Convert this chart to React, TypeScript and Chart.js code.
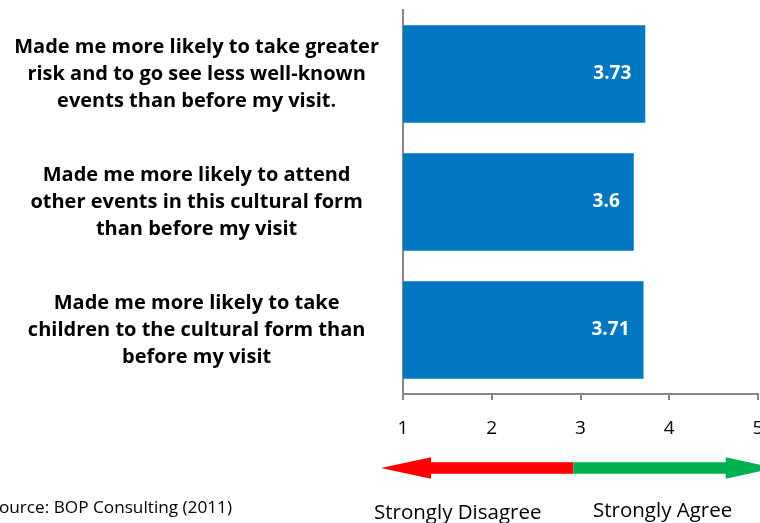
import React, { useEffect, useRef } from "react";
import { Chart, registerables } from "chart.js";

Chart.register(...registerables);

const categories: string[][] = [
  ["Made me more likely to take greater", "risk and to go see less well-known", "events than before my visit."],
  ["Made me more likely to attend", "other events in this cultural form", "than before my visit"],
  ["Made me more likely to take", "children to the cultural form than", "before my visit"],
];
const values: number[] = [3.73, 3.6, 3.71];
const scaleMin = 1;
const scaleMax = 5;
const disagreeLabel = "Strongly Disagree";
const agreeLabel = "Strongly Agree";
const sourceNote = "Source: BOP Consulting (2011)";

const FONT = "'Open Sans'";

export default function App() {
  const ref = useRef<HTMLCanvasElement | null>(null);

  useEffect(() => {
    document.body.style.margin = "0";
    const canvas = ref.current;
    if (!canvas) return;

    const valueLabels = {
      id: "valueLabels",
      afterDatasetsDraw(chart: any) {
        const ctx = chart.ctx;
        const meta = chart.getDatasetMeta(0);
        ctx.save();
        ctx.fillStyle = "#ffffff";
        ctx.font = `bold 19px ${FONT}`;
        ctx.textAlign = "right";
        ctx.textBaseline = "middle";
        meta.data.forEach((bar: any, i: number) => {
          ctx.fillText(String(values[i]), bar.x - 14, bar.y);
        });
        ctx.restore();
      },
    };

    const decor = {
      id: "decor",
      afterDraw(chart: any) {
        const ctx = chart.ctx;
        const xs = chart.scales.x;
        const x1 = xs.getPixelForValue(1);
        const unit = xs.getPixelForValue(2) - x1;
        const yc = chart.chartArea.bottom + 74;
        const left = x1 - 22;
        const split = x1 + 1.92 * unit;
        const right = x1 + 4.2 * unit;
        const head = 50;
        const hh = 10.7;
        const sh = 5.7;
        ctx.save();
        ctx.fillStyle = "#FF0000";
        ctx.beginPath();
        ctx.moveTo(left, yc);
        ctx.lineTo(left + head, yc - hh);
        ctx.lineTo(left + head, yc - sh);
        ctx.lineTo(split, yc - sh);
        ctx.lineTo(split, yc + sh);
        ctx.lineTo(left + head, yc + sh);
        ctx.lineTo(left + head, yc + hh);
        ctx.closePath();
        ctx.fill();
        ctx.fillStyle = "#00B050";
        ctx.beginPath();
        ctx.moveTo(right, yc);
        ctx.lineTo(right - head, yc - hh);
        ctx.lineTo(right - head, yc - sh);
        ctx.lineTo(split, yc - sh);
        ctx.lineTo(split, yc + sh);
        ctx.lineTo(right - head, yc + sh);
        ctx.lineTo(right - head, yc + hh);
        ctx.closePath();
        ctx.fill();

        ctx.fillStyle = "#000000";
        ctx.textBaseline = "middle";
        ctx.font = `20.5px ${FONT}`;
        ctx.textAlign = "left";
        ctx.fillText(disagreeLabel, x1 - 29, yc + 45);
        ctx.fillText(agreeLabel, x1 + 190, yc + 43);
        ctx.font = `17.2px ${FONT}`;
        ctx.textAlign = "right";
        ctx.fillText(sourceNote, 232, yc + 40);
        ctx.restore();
      },
    };

    const chart = new Chart(canvas, {
      type: "bar",
      data: {
        labels: categories as any,
        datasets: [
          {
            data: values,
            backgroundColor: "#0077C0",
            borderWidth: 0,
            barPercentage: 0.76,
            categoryPercentage: 1,
          },
        ],
      },
      options: {
        indexAxis: "y",
        responsive: false,
        animation: false,
        layout: { padding: { top: 10, right: 2, left: 0, bottom: 0 }, autoPadding: false } as any,
        plugins: { legend: { display: false }, tooltip: { enabled: false } },
        scales: {
          x: {
            type: "linear",
            min: scaleMin,
            max: scaleMax,
            ticks: { stepSize: 1, font: { family: FONT, size: 19 }, color: "#000", padding: 17 },
            grid: { display: true, drawOnChartArea: false, drawTicks: true, tickLength: 6, color: "#868686", lineWidth: 2 },
            border: { display: true, color: "#868686", width: 2 },
            afterFit: (s: any) => {
              s.height = 129;
              s.paddingLeft = 0;
              s.paddingRight = 0;
            },
          },
          y: {
            ticks: {
              font: { family: FONT, size: 20, weight: "bold", lineHeight: "27px" } as any,
              color: "#000",
              crossAlign: "center",
              padding: 24,
            },
            grid: { display: false, drawTicks: false },
            border: { display: true, color: "#868686", width: 2 },
            afterFit: (s: any) => {
              s.width = 403;
              s.paddingTop = 0;
              s.paddingBottom = 0;
            },
          },
        },
      } as any,
      plugins: [valueLabels, decor],
    });
    return () => chart.destroy();
  }, []);

  return <canvas ref={ref} width={760} height={523} style={{ display: "block" }} />;
}
